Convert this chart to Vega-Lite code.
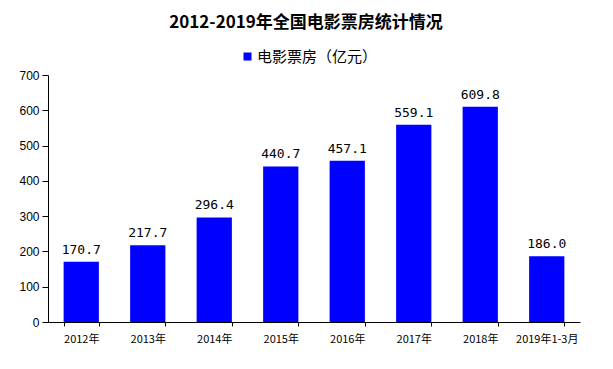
{
  "$schema": "https://vega.github.io/schema/vega-lite/v6.json",
  "width": 532,
  "height": 247,
  "autosize": {"type": "none"},
  "padding": {"left": 48, "top": 75, "right": 33, "bottom": 47},
  "background": "white",
  "title": {
    "text": "2012-2019年全国电影票房统计情况",
    "font": "Noto Sans CJK SC",
    "fontSize": 17,
    "fontWeight": "bold",
    "color": "black",
    "anchor": "middle",
    "dx": -8,
    "offset": 17
  },
  "data": {
    "values": [
      {"year": "2012年", "value": 170.7, "series": "电影票房（亿元）"},
      {"year": "2013年", "value": 217.7, "series": "电影票房（亿元）"},
      {"year": "2014年", "value": 296.4, "series": "电影票房（亿元）"},
      {"year": "2015年", "value": 440.7, "series": "电影票房（亿元）"},
      {"year": "2016年", "value": 457.1, "series": "电影票房（亿元）"},
      {"year": "2017年", "value": 559.1, "series": "电影票房（亿元）"},
      {"year": "2018年", "value": 609.8, "series": "电影票房（亿元）"},
      {"year": "2019年1-3月", "value": 186.0, "series": "电影票房（亿元）"}
    ]
  },
  "encoding": {
    "x": {
      "field": "year",
      "type": "nominal",
      "sort": null,
      "scale": {"paddingInner": 0.47, "paddingOuter": 0.235},
      "axis": {
        "title": null,
        "labelAngle": 0,
        "labelFont": "Noto Sans CJK SC",
        "labelFontSize": 11,
        "labelColor": "black",
        "labelPadding": 7,
        "tickBand": "extent",
        "tickSize": 4,
        "tickColor": "black",
        "domainColor": "black",
        "grid": false
      }
    },
    "y": {
      "field": "value",
      "type": "quantitative",
      "scale": {"domain": [0, 700], "nice": false},
      "axis": {
        "title": null,
        "values": [0, 100, 200, 300, 400, 500, 600, 700],
        "labelFont": "Liberation Sans",
        "labelFontSize": 12,
        "labelColor": "black",
        "labelPadding": 3,
        "tickSize": 6,
        "tickColor": "black",
        "domainColor": "black",
        "grid": false
      }
    }
  },
  "layer": [
    {
      "mark": {"type": "bar"},
      "encoding": {
        "color": {
          "field": "series",
          "type": "nominal",
          "scale": {"range": ["#0000ff"]},
          "legend": {
            "title": null,
            "orient": "none",
            "legendX": 192,
            "legendY": -26,
            "symbolType": "square",
            "symbolSize": 64,
            "symbolStrokeWidth": 0,
            "labelFont": "Noto Sans CJK SC",
            "labelFontSize": 15,
            "labelColor": "black",
            "labelOffset": 2
          }
        }
      }
    },
    {
      "mark": {
        "type": "text",
        "dy": -8,
        "baseline": "alphabetic",
        "font": "DejaVu Sans Mono",
        "fontSize": 13,
        "color": "black"
      },
      "encoding": {
        "text": {"field": "value", "type": "quantitative", "format": ".1f"}
      }
    }
  ],
  "config": {
    "view": {"stroke": null}
  }
}
